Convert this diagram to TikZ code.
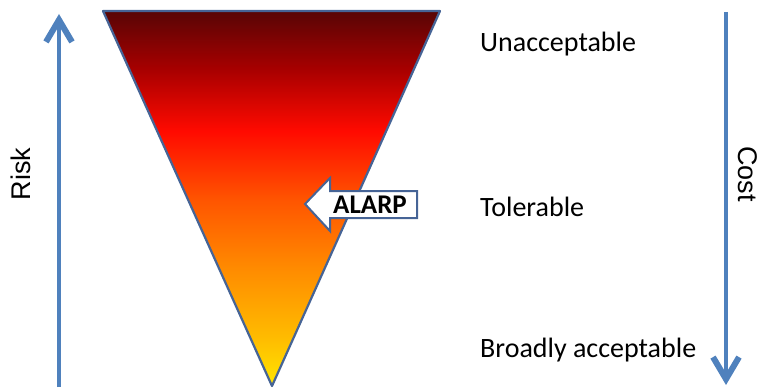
\documentclass[tikz,border=0pt]{standalone}
\usepackage{fontspec}
\setmainfont{Carlito}
\newfontfamily\arialfont{Liberation Sans}
\usetikzlibrary{arrows.meta}
\definecolor{axisblue}{RGB}{79,129,189}
\definecolor{edgeblue}{RGB}{70,100,150}
\pgfdeclareverticalshading{alarpgrad}{100bp}{%
  color(0bp)=(rgb,255:red,255;green,230;blue,0);
  color(25bp)=(rgb,255:red,255;green,230;blue,0);
  color(31bp)=(rgb,255:red,255;green,190;blue,0);
  color(40.5bp)=(rgb,255:red,255;green,140;blue,0);
  color(49.8bp)=(rgb,255:red,255;green,85;blue,0);
  color(59bp)=(rgb,255:red,255;green,10;blue,0);
  color(67bp)=(rgb,255:red,170;green,0;blue,0);
  color(75bp)=(rgb,255:red,88;green,5;blue,5);
  color(100bp)=(rgb,255:red,88;green,5;blue,5)}
\tikzset{
  axisarrow/.style={draw=axisblue, line width=4.5pt, -{Straight Barb[length=22pt,width=26pt,line width=6pt]}},
  levellabel/.style={anchor=west, inner sep=0pt, font=\fontsize{28}{28}\selectfont},
  sidelabel/.style={inner sep=0pt, font=\arialfont\fontsize{27}{27}\selectfont},
}
\begin{document}
\begin{tikzpicture}[x=1pt,y=-1pt]
\useasboundingbox (0,0) rectangle (767,390);
% triangle
\path[shading=alarpgrad, draw=edgeblue, line width=2.2pt, line join=round]
  (103,11) coordinate (tl) -- (440,11) coordinate (tr) -- (272,386) coordinate (tb) -- cycle;
% axes
\coordinate (rs) at (59,387);
\coordinate (re) at (59,14);
\draw[axisarrow] (rs) -- (re);
\coordinate (cs) at (726,12);
\coordinate (ce) at (726,385);
\draw[axisarrow] (cs) -- (ce);
\node[sidelabel, rotate=90] (risk) at (21,174) {Risk};
\node[sidelabel, rotate=-90] (cost) at (748,174) {Cost};
% ALARP arrow
\draw[draw=edgeblue, fill=white, line width=2pt, line join=miter]
  (305,204) -- (330,178) -- (330,191) -- (417,191) -- (417,218) -- (330,218) -- (330,231) -- cycle;
\node[inner sep=0pt, font=\bfseries\fontsize{27}{27}\selectfont] (alarp) at (370,205) {ALARP};
% level labels
\node[levellabel] (unacc) at (480,44) {Unacceptable};
\node[levellabel] (toler) at (480,207) {Tolerable};
\node[levellabel] (broad) at (480,350) {Broadly acceptable};
\end{tikzpicture}
\end{document}
